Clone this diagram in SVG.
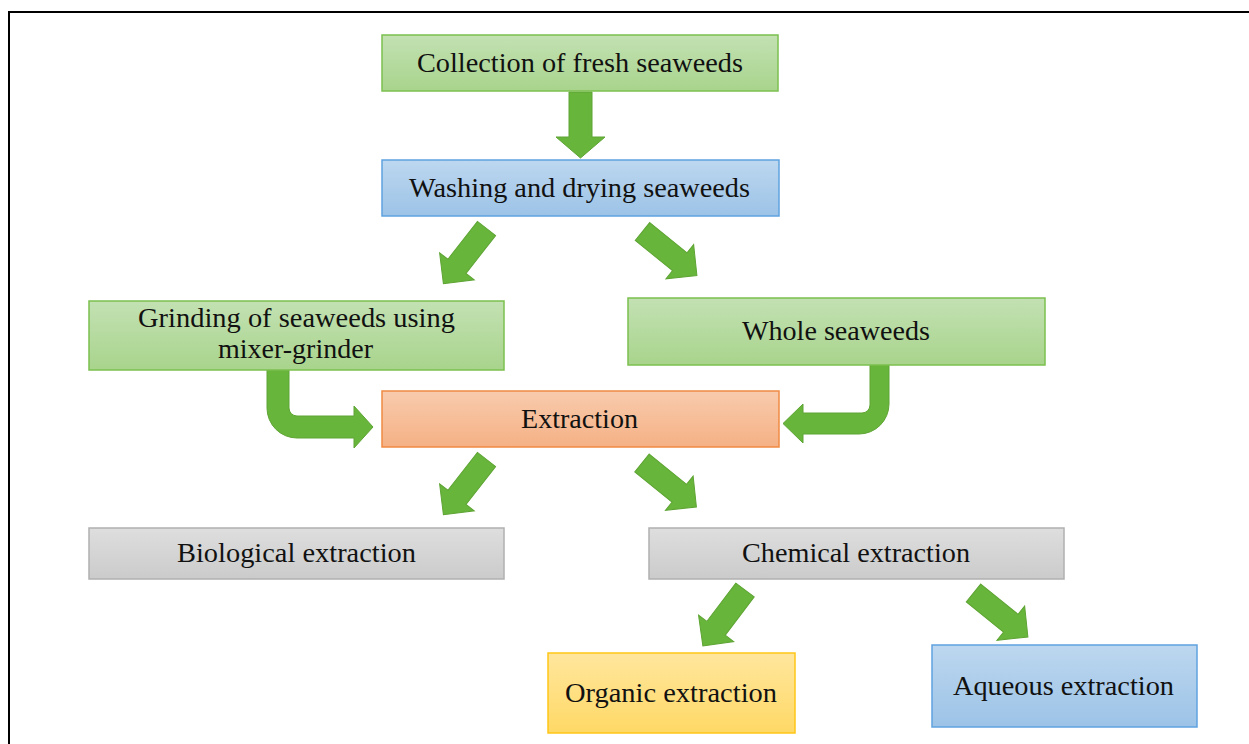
<svg xmlns="http://www.w3.org/2000/svg" width="1249" height="744" viewBox="0 0 1249 744">
  <defs>
    <linearGradient id="gGreen" x1="0" y1="0" x2="0" y2="1">
      <stop offset="0" stop-color="#c3e1b3"/>
      <stop offset="1" stop-color="#a8d48c"/>
    </linearGradient>
    <linearGradient id="gBlue" x1="0" y1="0" x2="0" y2="1">
      <stop offset="0" stop-color="#bdd7ef"/>
      <stop offset="1" stop-color="#9cc3e7"/>
    </linearGradient>
    <linearGradient id="gOrange" x1="0" y1="0" x2="0" y2="1">
      <stop offset="0" stop-color="#f8cbad"/>
      <stop offset="1" stop-color="#f5b185"/>
    </linearGradient>
    <linearGradient id="gGray" x1="0" y1="0" x2="0" y2="1">
      <stop offset="0" stop-color="#dedede"/>
      <stop offset="1" stop-color="#cbcbcb"/>
    </linearGradient>
    <linearGradient id="gYellow" x1="0" y1="0" x2="0" y2="1">
      <stop offset="0" stop-color="#ffe69d"/>
      <stop offset="1" stop-color="#ffd966"/>
    </linearGradient>
    <path id="diagArrow" d="M0,-11.5 L48,-11.5 L48,-22 L70,0 L48,22 L48,11.5 L0,11.5 Z"/>
  </defs>
  <style>
    .box { stroke-width: 1.5; }
    .green { fill: url(#gGreen); stroke: #7cc04f; }
    .blue { fill: url(#gBlue); stroke: #5fa3df; }
    .orange { fill: url(#gOrange); stroke: #f08a43; }
    .gray { fill: url(#gGray); stroke: #b0b0b0; }
    .yellow { fill: url(#gYellow); stroke: #ffc617; }
    .lbl { font-family: "Liberation Serif", "Times New Roman", serif; font-size: 27px; fill: #111; text-anchor: middle; }
    .arrow { fill: #67b53a; stroke: #5ea434; stroke-width: 1; }
  </style>

  <rect x="9" y="12" width="1300" height="800" fill="none" stroke="#000" stroke-width="2"/>

  <g id="connectors">
    <path class="arrow" d="M569,92 L592,92 L592,137 L605,137 L580.5,158 L556,137 L569,137 Z"/>
    <use class="arrow" href="#diagArrow" transform="translate(486.5,228.5) rotate(128)"/>
    <use class="arrow" href="#diagArrow" transform="translate(642.5,231.5) rotate(39)"/>
    <path class="arrow" d="M267,370 L267,408 A30,30 0 0 0 297,438 L354,438 L354,448 L373,427 L354,406 L354,416 L297,416 A8,8 0 0 1 289,408 L289,370 Z"/>
    <path class="arrow" d="M870,365 L870,405 A8,8 0 0 1 862,413 L803,413 L803,404 L783,423.5 L803,443 L803,434 L859,434 A30,30 0 0 0 889,404 L889,365 Z"/>
    <use class="arrow" href="#diagArrow" transform="translate(486.5,459.5) rotate(128)"/>
    <use class="arrow" href="#diagArrow" transform="translate(642,463) rotate(39)"/>
    <use class="arrow" href="#diagArrow" transform="translate(745,590) rotate(127)"/>
    <use class="arrow" href="#diagArrow" transform="translate(973.5,593) rotate(39)"/>
  </g>

  <g id="collection">
    <rect class="box green" x="382" y="35" width="396" height="56"/>
    <text class="lbl" x="580" y="72" textLength="326" lengthAdjust="spacingAndGlyphs">Collection of fresh seaweeds</text>
  </g>
  <g id="washing">
    <rect class="box blue" x="382" y="160" width="397" height="56"/>
    <text class="lbl" x="579.5" y="197" textLength="341" lengthAdjust="spacingAndGlyphs">Washing and drying seaweeds</text>
  </g>
  <g id="grinding">
    <rect class="box green" x="89" y="301" width="415" height="69"/>
    <text class="lbl" x="296.5" y="327" textLength="317" lengthAdjust="spacingAndGlyphs">Grinding of seaweeds using</text>
    <text class="lbl" x="295.5" y="358" textLength="155" lengthAdjust="spacingAndGlyphs">mixer-grinder</text>
  </g>
  <g id="whole">
    <rect class="box green" x="628" y="298" width="417" height="67"/>
    <text class="lbl" x="836" y="340" textLength="188" lengthAdjust="spacingAndGlyphs">Whole seaweeds</text>
  </g>
  <g id="extraction">
    <rect class="box orange" x="382" y="391" width="397" height="56"/>
    <text class="lbl" x="579.5" y="428" textLength="117" lengthAdjust="spacingAndGlyphs">Extraction</text>
  </g>
  <g id="biological">
    <rect class="box gray" x="89" y="528" width="415" height="51"/>
    <text class="lbl" x="296.5" y="562" textLength="239" lengthAdjust="spacingAndGlyphs">Biological extraction</text>
  </g>
  <g id="chemical">
    <rect class="box gray" x="649" y="528" width="415" height="51"/>
    <text class="lbl" x="856" y="562" textLength="228" lengthAdjust="spacingAndGlyphs">Chemical extraction</text>
  </g>
  <g id="organic">
    <rect class="box yellow" x="548" y="653" width="247" height="80"/>
    <text class="lbl" x="671" y="702" textLength="212" lengthAdjust="spacingAndGlyphs">Organic extraction</text>
  </g>
  <g id="aqueous">
    <rect class="box blue" x="932" y="645" width="265" height="82"/>
    <text class="lbl" x="1063.5" y="695" textLength="221" lengthAdjust="spacingAndGlyphs">Aqueous extraction</text>
  </g>
</svg>
